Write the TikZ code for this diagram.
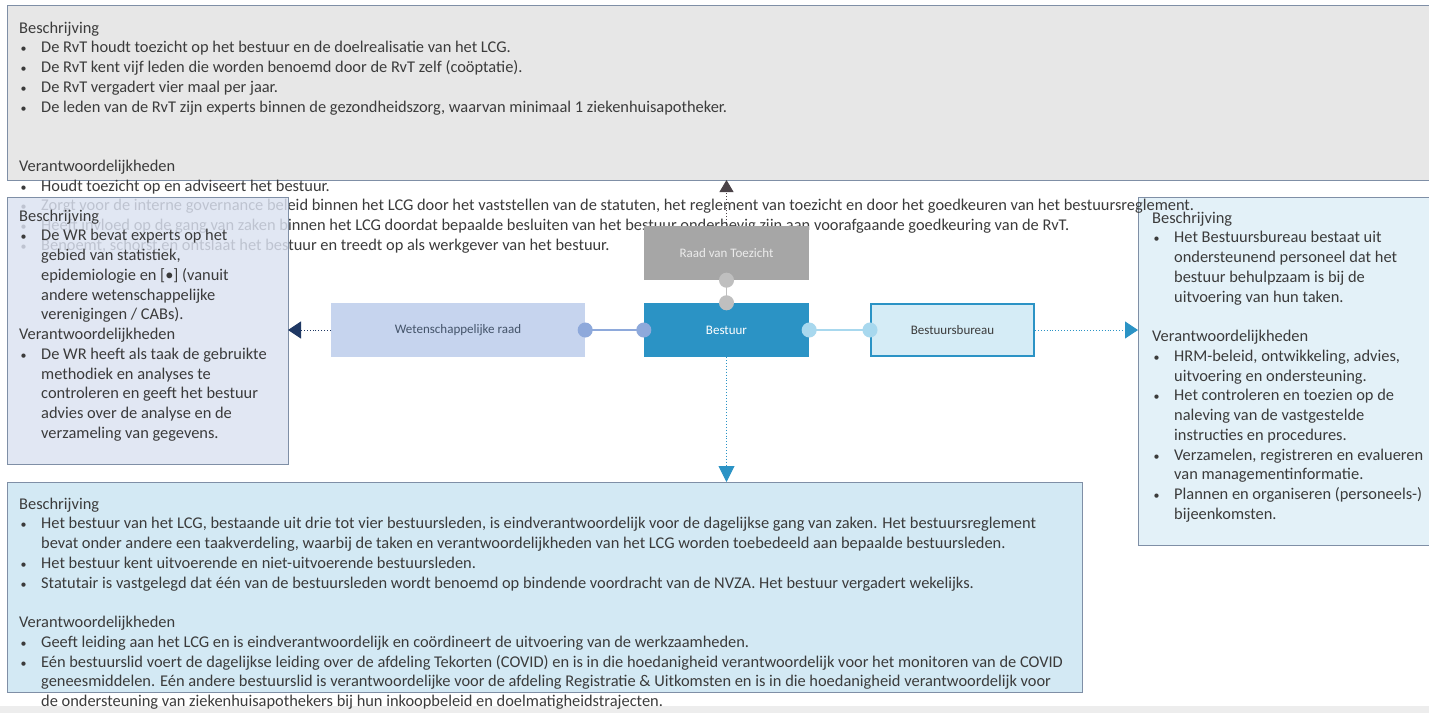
\documentclass[tikz,border=0pt]{standalone}
\usepackage{fontspec}
\setmainfont{Carlito}
\usetikzlibrary{arrows.meta}

\definecolor{txt}{HTML}{3B3B3B}
\definecolor{edge}{HTML}{7F8FA6}
\definecolor{rvtfill}{HTML}{E7E7E7}
\definecolor{wrfill}{HTML}{DBE2F1}
\definecolor{bbfill}{HTML}{E3F1F8}
\definecolor{bstfill}{HTML}{D3E9F4}
\definecolor{rvtnode}{HTML}{A6A6A6}
\definecolor{bstnode}{HTML}{2B93C5}
\definecolor{wrnode}{HTML}{C6D4EE}
\definecolor{bbnode}{HTML}{D5ECF6}
\definecolor{wrdot}{HTML}{8EA9DB}
\definecolor{bbdot}{HTML}{A8D8EE}
\definecolor{rvtdot}{HTML}{BFBFBF}
\definecolor{navy}{HTML}{1F3864}
\definecolor{darkarrow}{HTML}{4B4348}
\definecolor{wrtext}{HTML}{44546A}
\definecolor{band}{HTML}{EDEDED}

% bullet line, continuation line, heading line, empty line
\newcommand\bl[1]{\makebox[22pt][l]{\hspace*{1.5pt}{\fontsize{12}{12}\selectfont\textbullet}}#1\\}
\newcommand\cl[1]{\hspace*{22pt}#1\\}
\newcommand\hd[1]{#1\\}
\newcommand\el{\mbox{}\\}
\newcommand\blocktext[2]{\parbox[t]{#1}{\raggedright\fontsize{16.4}{19.75}\selectfont #2}}

\tikzset{
  infobox/.style={draw=edge, line width=0.8pt},
  textblock/.style={anchor=base west, inner sep=0pt, text=txt},
  orgnode/.style={minimum height=54pt, inner sep=0pt, font=\fontsize{13}{15}\selectfont},
  link/.style={line width=1.6pt, shorten <=-7.5pt, shorten >=-7.5pt},
  pointer/.style={dotted, line width=0.9pt},
}

\begin{document}
\begin{tikzpicture}[x=1pt, y=-1pt]
\useasboundingbox (0,0) rectangle (1429,713);
\fill[white] (0,0) rectangle (1429,713);
\fill[band] (0,706) rectangle (1429,713);

% description box of the Bestuursbureau
\draw[infobox, fill=bbfill] (1138,197) rectangle (1434,545);
\node[textblock] (bbText) at (1152,223) {\blocktext{280pt}{%
\hd{Beschrijving}
\bl{Het Bestuursbureau bestaat uit}
\cl{ondersteunend personeel dat het}
\cl{bestuur behulpzaam is bij de}
\cl{uitvoering van hun taken.}
\el
\hd{Verantwoordelijkheden}
\bl{HRM-beleid, ontwikkeling, advies,}
\cl{uitvoering en ondersteuning.}
\bl{Het controleren en toezien op de}
\cl{naleving van de vastgestelde}
\cl{instructies en procedures.}
\bl{Verzamelen, registreren en evalueren}
\cl{van managementinformatie.}
\bl{Plannen en organiseren (personeels-)}
\cl{bijeenkomsten.}}};

% description box of the Raad van Toezicht
\draw[infobox, fill=rvtfill] (7,5) rectangle (1434,180);
\node[textblock] (rvtText) at (19,33) {\blocktext{1400pt}{%
\hd{Beschrijving}
\bl{De RvT houdt toezicht op het bestuur en de doelrealisatie van het LCG.}
\bl{De RvT kent vijf leden die worden benoemd door de RvT zelf (coöptatie).}
\bl{De RvT vergadert vier maal per jaar.}
\bl{De leden van de RvT zijn experts binnen de gezondheidszorg, waarvan minimaal 1 ziekenhuisapotheker.}
\el
\el
\hd{Verantwoordelijkheden}
\bl{Houdt toezicht op en adviseert het bestuur.}
\bl{Zorgt voor de interne governance beleid binnen het LCG door het vaststellen van de statuten, het reglement van toezicht en door het goedkeuren van het bestuursreglement.}
\bl{Heeft invloed op de gang van zaken binnen het LCG doordat bepaalde besluiten van het bestuur onderhevig zijn aan voorafgaande goedkeuring van de RvT.}
\bl{Benoemt, schorst en ontslaat het bestuur en treedt op als werkgever van het bestuur.}}};

% description box of the Wetenschappelijke raad
\fill[wrfill, fill opacity=0.82] (7,197) rectangle (288,464);
\draw[infobox] (7,197) rectangle (288,464);
\node[textblock] (wrText) at (19,221) {\blocktext{270pt}{%
\hd{Beschrijving}
\bl{De WR bevat experts op het}
\cl{gebied van statistiek,}
\cl{epidemiologie en [•] (vanuit}
\cl{andere wetenschappelijke}
\cl{verenigingen / CABs).}
\hd{Verantwoordelijkheden}
\bl{De WR heeft als taak de gebruikte}
\cl{methodiek en analyses te}
\cl{controleren en geeft het bestuur}
\cl{advies over de analyse en de}
\cl{verzameling van gegevens.}}};

% description box of the Bestuur
\draw[infobox, fill=bstfill] (7,482) rectangle (1082,692);
\node[textblock] (bstText) at (19,509) {\blocktext{1300pt}{%
\hd{Beschrijving}
\bl{Het bestuur van het LCG, bestaande uit drie tot vier bestuursleden, is eindverantwoordelijk voor de dagelijkse gang van zaken. Het bestuursreglement}
\cl{bevat onder andere een taakverdeling, waarbij de taken en verantwoordelijkheden van het LCG worden toebedeeld aan bepaalde bestuursleden.}
\bl{Het bestuur kent uitvoerende en niet-uitvoerende bestuursleden.}
\bl{Statutair is vastgelegd dat één van de bestuursleden wordt benoemd op bindende voordracht van de NVZA. Het bestuur vergadert wekelijks.}
\el
\hd{Verantwoordelijkheden}
\bl{Geeft leiding aan het LCG en is eindverantwoordelijk en coördineert de uitvoering van de werkzaamheden.}
\bl{Eén bestuurslid voert de dagelijkse leiding over de afdeling Tekorten (COVID) en is in die hoedanigheid verantwoordelijk voor het monitoren van de COVID}
\cl{geneesmiddelen. Eén andere bestuurslid is verantwoordelijke voor de afdeling Registratie \& Uitkomsten en is in die hoedanigheid verantwoordelijk voor}
\cl{de ondersteuning van ziekenhuisapothekers bij hun inkoopbeleid en doelmatigheidstrajecten.}}};

% anchors on the description boxes
\coordinate (rvtBoxS) at (726.5,180);
\coordinate (bstBoxN) at (726.5,482);
\coordinate (wrBoxE) at (288,330);
\coordinate (bbBoxW) at (1138,330);

% organisation chart
\node[orgnode, fill=rvtnode, minimum width=165pt, text=white!92!black] (rvt) at (726.5,253) {Raad van Toezicht};
\node[orgnode, fill=bstnode, minimum width=165pt, text=white] (bst) at (726.5,330) {Bestuur};
\node[orgnode, fill=wrnode, minimum width=254pt, text=wrtext] (wr) at (458,330) {Wetenschappelijke raad};
\node[orgnode, fill=bbnode, draw=bstnode, line width=2pt, minimum width=163pt, minimum height=52pt, text=txt] (bb) at (952.5,330) {Bestuursbureau};

% pointers to the descriptions
\draw[pointer, darkarrow, -{Triangle[length=12pt, width=14pt]}] (rvt.north) -- (rvtBoxS);
\draw[pointer, bstnode, -{Triangle[length=16pt, width=16pt]}] (bst.south) -- (bstBoxN);
\draw[pointer, navy, -{Triangle[length=13pt, width=17pt]}] (wr.west) -- (wrBoxE);
\draw[pointer, bstnode, -{Triangle[length=13pt, width=17pt]}] (bb.east) -- (bbBoxW);

% links between the bodies
\draw[link, rvtdot, {Circle[length=15pt]}-{Circle[length=15pt]}] (rvt.south) -- (bst.north);
\draw[link, wrdot, {Circle[length=15pt]}-{Circle[length=15pt]}] (wr.east) -- (bst.west);
\draw[link, bbdot, {Circle[length=15pt]}-{Circle[length=15pt]}] (bst.east) -- (bb.west);
\end{tikzpicture}
\end{document}
